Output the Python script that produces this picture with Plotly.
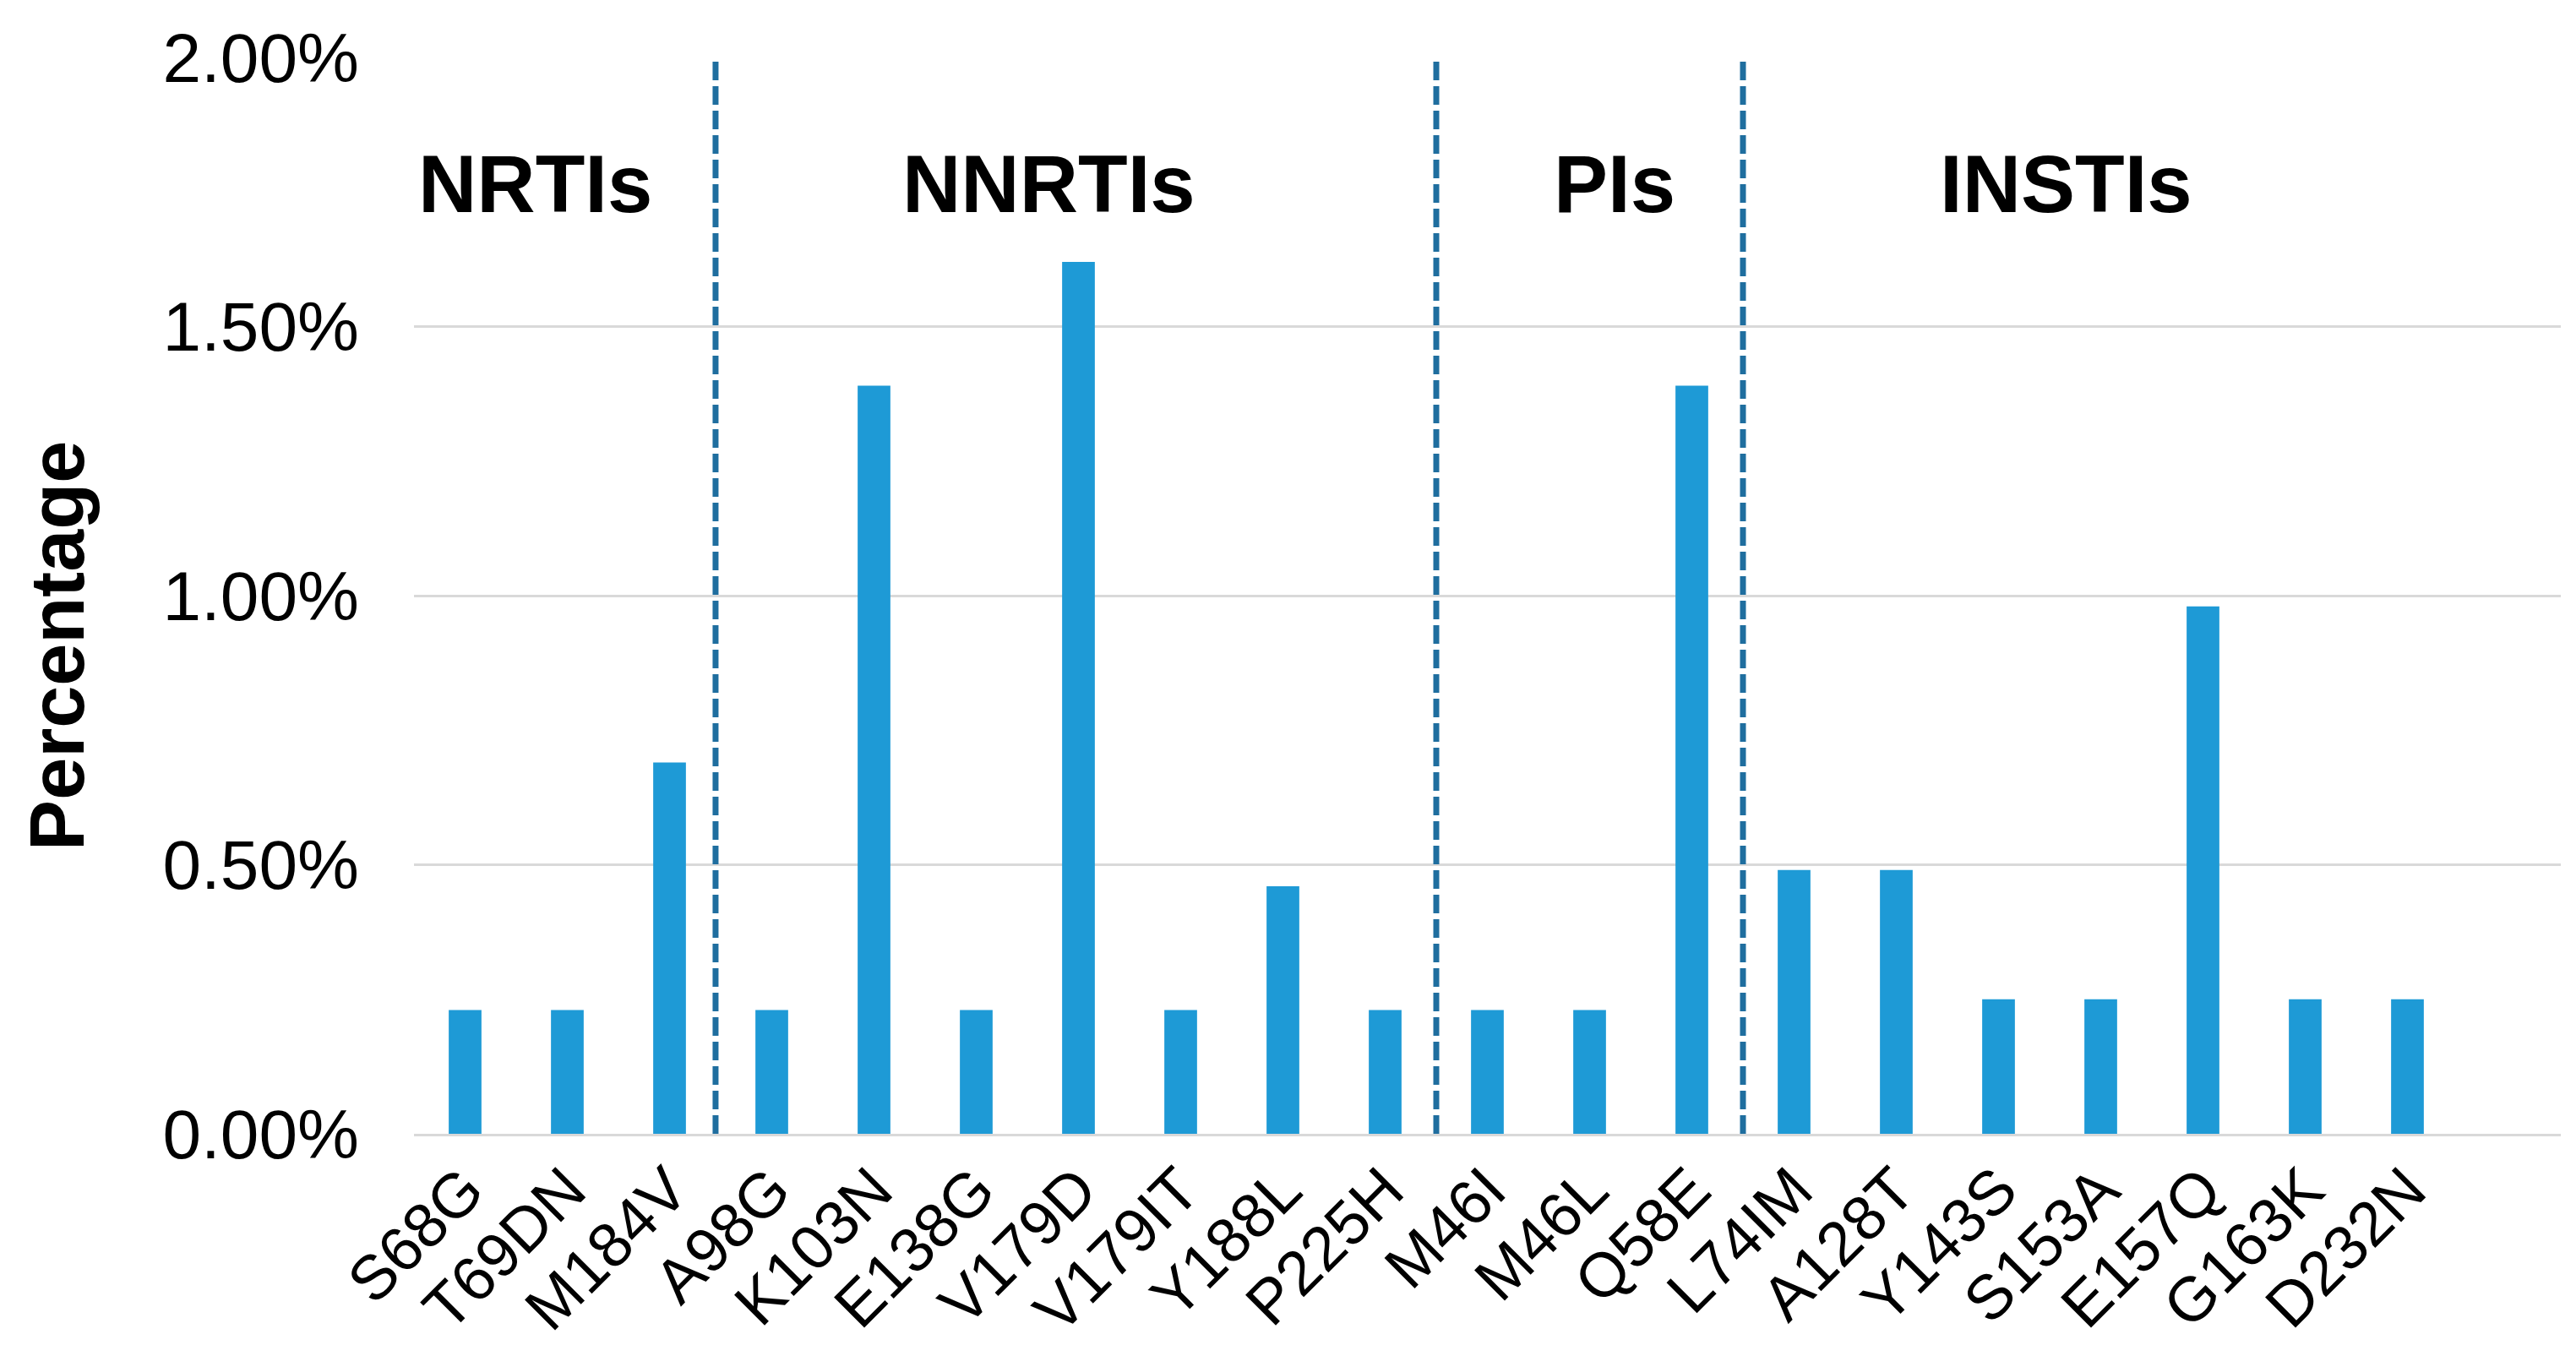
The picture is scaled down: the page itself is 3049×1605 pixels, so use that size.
import plotly.graph_objects as go

categories = ["S68G", "T69DN", "M184V", "A98G", "K103N", "E138G", "V179D", "V179IT",
              "Y188L", "P225H", "M46I", "M46L", "Q58E", "L74IM", "A128T", "Y143S",
              "S153A", "E157Q", "G163K", "D232N"]
values = [0.23, 0.23, 0.69, 0.23, 1.39, 0.23, 1.62, 0.23,
          0.46, 0.23, 0.23, 0.23, 1.39, 0.49, 0.49, 0.25,
          0.25, 0.98, 0.25, 0.25]
y_ticks = [0, 0.5, 1.0, 1.5, 2.0]
y_tick_labels = ["0.00%", "0.50%", "1.00%", "1.50%", "2.00%"]
group_names = ["NRTIs", "NNRTIs", "PIs", "INSTIs"]
group_label_x = [0.69, 5.71, 11.24, 15.66]
divider_x = [2.45, 9.5, 12.5]

BAR = "#1E9AD6"
DIV = "#1F6E9F"
FONT = "Liberation Sans, Arial, sans-serif"
TICKFONT = "Liberation Sans, Arial, sans-serif"

W, H = 3049, 1605
ML, MR, MT, MB = 482, 26, 60, 271

fig = go.Figure()
fig.add_trace(go.Bar(x=categories, y=values, marker=dict(color=BAR, line=dict(width=0)),
                     width=0.32))

for xv in divider_x:
    fig.add_shape(type="line", xref="x", yref="y", x0=xv, x1=xv, y0=0, y1=2.0,
                  line=dict(color=DIV, width=7, dash="22px,7px"))

for name, gx in zip(group_names, group_label_x):
    fig.add_annotation(x=gx, y=1.765, xref="x", yref="y", text="<b>%s</b>" % name,
                       showarrow=False,
                       font=dict(family=FONT, size=96, color="black"),
                       xanchor="center", yanchor="middle")

# y-axis title
fig.add_annotation(x=(60 - ML) / (W - ML - MR), y=0.453, xref="paper", yref="paper",
                   text="<b>Percentage</b>", textangle=-90, showarrow=False,
                   font=dict(family=FONT, size=90, color="black"),
                   xanchor="center", yanchor="middle")

fig.update_layout(
    width=W, height=H,
    margin=dict(l=ML, r=MR, t=MT, b=MB),
    paper_bgcolor="white", plot_bgcolor="white",
    showlegend=False,
    font=dict(family=FONT, color="black"),
)
fig.update_xaxes(
    type="category", range=[-0.5, 20.5], tickangle=-45,
    tickfont=dict(family=TICKFONT, size=74, color="black"),
    showgrid=False, showline=True, linecolor="#d9d9d9", linewidth=3,
    ticks="", ticklabelstandoff=-10, automargin=False,
)
fig.update_yaxes(
    range=[0, 2.0], tickvals=y_ticks, ticktext=y_tick_labels,
    tickfont=dict(family=TICKFONT, size=82, color="black"),
    showgrid=True, gridcolor="#d9d9d9", gridwidth=3,
    zeroline=False, showline=False, ticks="", ticklabelstandoff=64, automargin=False,
)

fig.write_html("out.html")
